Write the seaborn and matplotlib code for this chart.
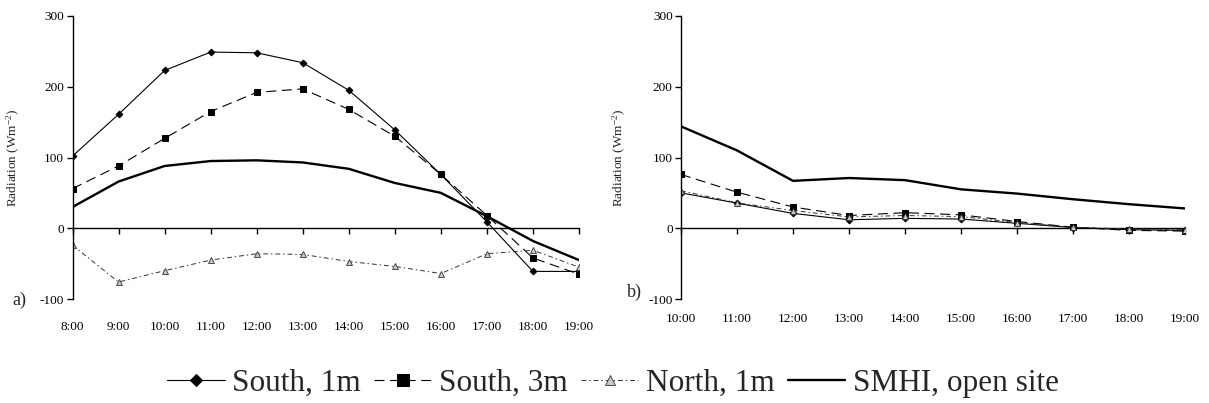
import numpy as np
import matplotlib
matplotlib.use("Agg")
import matplotlib.pyplot as plt
import seaborn as sns

# ---------------- data ----------------
hours_a = ["8:00", "9:00", "10:00", "11:00", "12:00", "13:00",
           "14:00", "15:00", "16:00", "17:00", "18:00", "19:00"]
south1_a = [102, 161, 223, 249, 248, 234, 195, 139, 76, 9, -61, -61]
south3_a = [56, 88, 127, 165, 192, 197, 168, 130, 76, 18, -42, -65]
north1_a = [-24, -76, -60, -45, -36, -37, -47, -54, -64, -36, -31, -55]
smhi_a = [30, 66, 88, 95, 96, 93, 84, 64, 50, 17, -18, -45]

hours_b = ["10:00", "11:00", "12:00", "13:00", "14:00",
           "15:00", "16:00", "17:00", "18:00", "19:00"]
south1_b = [50, 35.5, 21, 12, 14, 13, 7, 1, -2, -3]
south3_b = [76, 51, 30, 18, 22, 19, 9.5, 1.5, -3, -4]
north1_b = [53, 36, 25, 16, 18, 16.5, 8, 1.5, -1, -2]
smhi_b = [144, 110, 67, 71, 68, 55, 49, 41, 34, 28]

series_names = ["South, 1m", "South, 3m", "North, 1m", "SMHI, open site"]
y_ticks = [-100, 0, 100, 200, 300]

# ---------------- style ----------------
sns.set_theme(style="ticks")
plt.rcParams["font.family"] = ["Liberation Serif", "DejaVu Serif"]
plt.rcParams["mathtext.fontset"] = "custom"
plt.rcParams["mathtext.rm"] = "Liberation Serif"
plt.rcParams["mathtext.it"] = "Liberation Serif:italic"
plt.rcParams["axes.unicode_minus"] = False

styles = [
    dict(color="black", lw=0.8, ls="-", marker="D", ms=3.4,
         mfc="black", mec="black"),
    dict(color="black", lw=0.8, ls=(0, (9, 5)), marker="s", ms=4.2,
         mfc="black", mec="black"),
    dict(color="#333333", lw=0.7, ls=(0, (5, 3, 1.5, 3)), marker="^", ms=4.5,
         mfc="#c8c8c8", mec="#333333", mew=0.6),
    dict(color="black", lw=1.7, ls="-", marker=None),
]

fig = plt.figure(figsize=(12.09, 4.03), dpi=100)
H = 403.0
W = 1209.0
top_px, bot_px = 16, 299
ax_a = fig.add_axes([72.5 / W, 1 - bot_px / H, (579 - 72.5) / W, (bot_px - top_px) / H])
ax_b = fig.add_axes([681 / W, 1 - bot_px / H, (1185 - 681) / W, (bot_px - top_px) / H])

handles = []
panels = [
    (ax_a, hours_a, [south1_a, south3_a, north1_a, smhi_a], 16, -0.0997),
    (ax_b, hours_b, [south1_b, south3_b, north1_b, smhi_b], 10, -0.106),
]
for pi, (ax, hours, vals, xpad, ylab_x) in enumerate(panels):
    pos = np.arange(len(hours))
    for si, (v, st, name) in enumerate(zip(vals, styles, series_names)):
        sns.lineplot(x=pos, y=v, ax=ax, legend=False, **st)
        line = ax.lines[-1]
        line.set_label(name)
        if pi == 0:
            handles.append(line)
    ax.set_xlim(0, len(hours) - 1)
    ax.set_ylim(-100, 300)
    ax.set_yticks(y_ticks)
    ax.set_yticklabels([str(t) for t in y_ticks])
    ax.set_xticks(pos)
    ax.set_xticklabels(hours)
    ax.tick_params(axis="x", length=0, pad=xpad, labelsize=9.5, colors="black")
    ax.tick_params(axis="y", direction="out", length=4, width=1.0, pad=2,
                   labelsize=9.5, colors="black")
    for s in ["top", "right", "bottom"]:
        ax.spines[s].set_visible(False)
    ax.spines["left"].set_linewidth(1.0)
    ax.spines["left"].set_color("black")
    ax.set_xlabel("")
    ax.set_ylabel("Radiation (Wm$^{-2}$)", fontsize=9.5)
    ax.yaxis.set_label_coords(ylab_x, 0.5)
    ax.grid(False)
    # zero axis line with ticks
    sec = ax.secondary_xaxis(0, transform=ax.transData)
    sec.set_xticks(pos)
    sec.tick_params(axis="x", direction="out", length=4, width=1.0,
                    labelbottom=False, colors="black")
    sec.spines["bottom"].set_linewidth(1.0)
    sec.spines["bottom"].set_color("black")

fig.text(19 / W, 1 - 300 / H, "a)", fontsize=13, ha="center", va="center")
fig.text(634 / W, 1 - 292 / H, "b)", fontsize=13, ha="center", va="center")

leg = fig.legend(handles, series_names, loc="center", ncol=4, frameon=False,
                 bbox_to_anchor=(613 / W, 1 - 383 / H), fontsize=22.5,
                 handlelength=1.85, handletextpad=0.25, columnspacing=0.4,
                 borderaxespad=0, borderpad=0)
for h, ms in zip(leg.legend_handles, [6, 9, 7, 0]):
    if ms:
        h.set_markersize(ms)

fig.savefig("out.png", dpi=100)
